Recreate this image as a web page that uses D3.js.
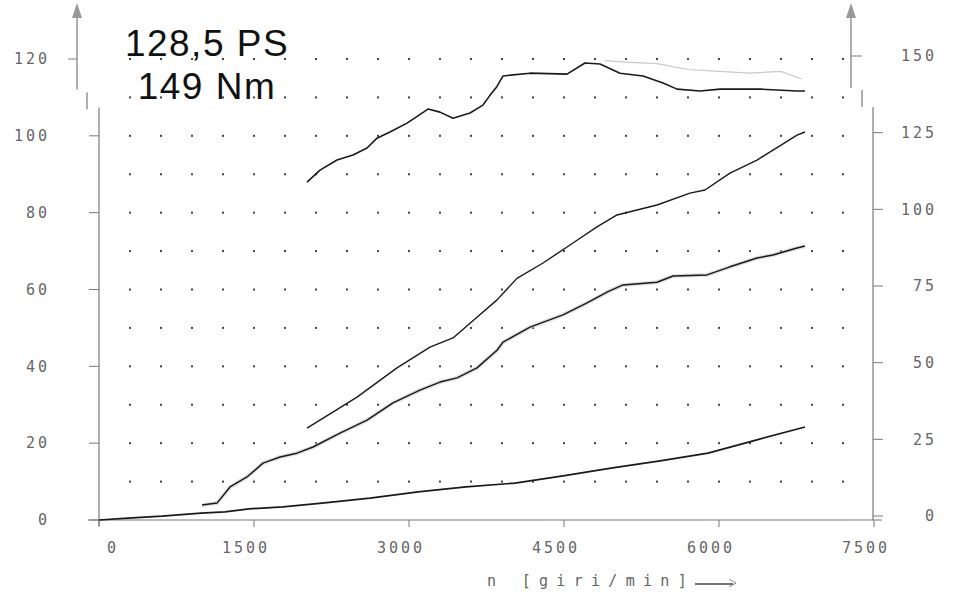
<!DOCTYPE html>
<html><head><meta charset="utf-8">
<script src="https://cdn.jsdelivr.net/npm/d3@7"></script>
<style>html,body{margin:0;padding:0;background:#fff;}svg{display:block;}</style>
</head><body>
<script>
// ---- data ----
const rpmTicks = [0, 1500, 3000, 4500, 6000, 7500];
const leftTicks = [0, 20, 40, 60, 80, 100, 120];
const rightTicks = [0, 25, 50, 75, 100, 125, 150];
const titleLines = ["128,5 PS", "149 Nm"];
const xLabel = "n [giri/min]";

const torqueRpm = [2013,2139,2303,2458,2594,2690,2816,2981,3184,3300,3426,3590,3716,3780,3850,3910,4171,4529,4703,4848,5042,5265,5458,5594,5816,6010,6397,6755,6832];
const torqueNm  = [108.9,112.8,116.1,117.7,120.0,123.2,125.2,128.1,132.7,131.7,129.7,131.4,134.0,137.0,140.0,143.5,144.4,144.1,147.7,147.4,144.4,143.5,141.2,139.2,138.6,139.2,139.2,138.6,138.6];

const torqueGrayRpm = [4900,5100,5400,5700,6000,6300,6600,6800];
const torqueGrayNm  = [148.5,148.0,147.5,145.6,145.0,144.4,145.0,142.5];

const powerRpm = [2013,2497,2884,3203,3426,3658,3852,4045,4297,4587,4819,5013,5400,5719,5864,6106,6368,6523,6755,6832];
const powerVal = [23.9,32.0,39.6,45.0,47.4,52.8,57.3,62.9,66.9,72.1,76.3,79.4,82.0,85.1,85.9,90.3,93.7,96.3,100.2,101.0];

const wheelRpm = [997,1142,1268,1432,1587,1752,1916,2071,2332,2594,2845,3106,3300,3465,3658,3852,3910,4171,4490,4723,4916,5071,5400,5555,5884,6106,6368,6523,6755,6832];
const wheelVal = [3.9,4.4,8.6,11.2,14.8,16.4,17.4,19.0,22.6,26.0,30.5,33.8,35.9,37.0,39.6,44.2,46.3,50.2,53.4,56.5,59.3,61.2,61.9,63.5,63.8,65.9,68.2,69.0,70.8,71.3];

const lossRpm = [0,281,610,987,1219,1452,1781,2158,2623,3087,3552,4026,4490,4955,5429,5894,6358,6832];
const lossVal = [0,0.5,1.0,1.8,2.1,2.9,3.4,4.4,5.7,7.3,8.6,9.6,11.5,13.5,15.4,17.4,20.8,24.2];

// ---- drawing ----
const W = 958, H = 596;
const svg = d3.select("body").append("svg").attr("width", W).attr("height", H);

const x = d3.scaleLinear().domain([0, 7500]).range([99, 874]);
const yL = d3.scaleLinear().domain([0, 120]).range([520, 59]);
const yR = d3.scaleLinear().domain([0, 150]).range([516, 56]);

const axisCol = "#7a7a7a", txtCol = "#666";
const mono = "'DejaVu Sans Mono', monospace";

// grid dots
const gridX = d3.range(300, 7201, 300);
const gridY = d3.range(10, 121, 10);
const dots = [];
gridY.forEach(v => gridX.forEach(r => dots.push([r, v])));
svg.append("g").selectAll("rect").data(dots).join("rect")
  .attr("x", d => x(d[0]) - 1).attr("y", d => yL(d[1]) - 1)
  .attr("width", 2).attr("height", 2).attr("fill", "#444");

// x axis
svg.append("line").attr("x1", 88).attr("x2", 882).attr("y1", yL(0)).attr("y2", yL(0))
  .attr("stroke", axisCol).attr("stroke-width", 1.2);
svg.append("g").selectAll("line").data(rpmTicks).join("line")
  .attr("x1", d => x(d)).attr("x2", d => x(d)).attr("y1", yL(0)).attr("y2", yL(0) + 7)
  .attr("stroke", axisCol);
svg.append("g").selectAll("text").data(rpmTicks).join("text")
  .attr("x", d => x(d) + (d === 0 ? 14 : -8)).attr("y", 553)
  .attr("text-anchor", "middle").attr("font-family", mono).attr("font-size", 15)
  .attr("letter-spacing", 3).attr("fill", txtCol).text(d => String(d));

// left axis (main part + shifted upper part as on the scan)
svg.append("line").attr("x1", 99).attr("x2", 99).attr("y1", yL(110) + 10).attr("y2", yL(0) + 6)
  .attr("stroke", axisCol).attr("stroke-width", 1.2);
svg.append("line").attr("x1", 87).attr("x2", 87).attr("y1", yL(110) - 5).attr("y2", yL(110) + 12)
  .attr("stroke", axisCol).attr("stroke-width", 1.2);
svg.append("line").attr("x1", 77).attr("x2", 77).attr("y1", 8).attr("y2", yL(110) - 8)
  .attr("stroke", axisCol).attr("stroke-width", 1.2);
svg.append("path").attr("d", "M77,3 L72,18 L82,18 Z").attr("fill", "#999");
svg.append("g").selectAll("line").data(leftTicks).join("line")
  .attr("x1", d => d === 120 ? 68 : 89).attr("x2", d => d === 120 ? 77 : 99)
  .attr("y1", d => yL(d)).attr("y2", d => yL(d)).attr("stroke", axisCol);
svg.append("g").selectAll("text").data(leftTicks).join("text")
  .attr("x", 50).attr("y", d => yL(d)).attr("dy", "0.35em")
  .attr("text-anchor", "end").attr("font-family", mono).attr("font-size", 15)
  .attr("letter-spacing", 3).attr("fill", txtCol).text(d => String(d));

// right axis
svg.append("line").attr("x1", 873).attr("x2", 873).attr("y1", 107).attr("y2", yL(0))
  .attr("stroke", axisCol).attr("stroke-width", 1.2);
svg.append("line").attr("x1", 862).attr("x2", 862).attr("y1", 90).attr("y2", 107)
  .attr("stroke", axisCol).attr("stroke-width", 1.2);
svg.append("line").attr("x1", 851).attr("x2", 851).attr("y1", 8).attr("y2", 88)
  .attr("stroke", axisCol).attr("stroke-width", 1.2);
svg.append("path").attr("d", "M851,3 L846,18 L856,18 Z").attr("fill", "#999");
svg.append("g").selectAll("line").data(rightTicks).join("line")
  .attr("x1", d => d === 150 ? 851 : 873).attr("x2", d => d === 150 ? 862 : 883)
  .attr("y1", d => yR(d)).attr("y2", d => yR(d)).attr("stroke", axisCol);
svg.append("g").selectAll("text").data(rightTicks).join("text")
  .attr("x", 937).attr("y", d => yR(d)).attr("dy", "0.35em")
  .attr("text-anchor", "end").attr("font-family", mono).attr("font-size", 15)
  .attr("letter-spacing", 3).attr("fill", txtCol).text(d => String(d));

// curves
function draw(rpm, vals, yScale, color, width, opacity) {
  const pts = rpm.map((r, i) => [r, vals[i]]);
  svg.append("path").datum(pts)
    .attr("d", d3.line().x(d => x(d[0])).y(d => yScale(d[1])))
    .attr("fill", "none").attr("stroke", color).attr("stroke-width", width)
    .attr("stroke-opacity", opacity).attr("stroke-linejoin", "round");
}
draw(torqueGrayRpm, torqueGrayNm, yR, "#bbb", 1.2, 0.8);
draw(wheelRpm, wheelVal, yL, "#ccc", 4, 0.6);
draw(torqueRpm, torqueNm, yR, "#1a1a1a", 1.6, 1);
draw(powerRpm, powerVal, yL, "#1a1a1a", 1.4, 1);
draw(wheelRpm, wheelVal, yL, "#1a1a1a", 1.5, 1);
draw(lossRpm, lossVal, yL, "#1a1a1a", 1.7, 1);

// title
svg.append("g").selectAll("text").data(titleLines).join("text")
  .attr("x", 207).attr("y", (d, i) => 56 + i * 43)
  .attr("text-anchor", "middle").attr("font-family", "'Liberation Sans', Arial, sans-serif")
  .attr("font-size", 37).attr("letter-spacing", 1.5).attr("fill", "#111").text(d => d);

// x label with arrow
svg.append("text").attr("x", 487).attr("y", 586)
  .attr("font-family", mono).attr("font-size", 15).attr("letter-spacing", 8.3)
  .attr("fill", txtCol).text(xLabel);
svg.append("line").attr("x1", 695).attr("x2", 733).attr("y1", 584).attr("y2", 584)
  .attr("stroke", "#444").attr("stroke-width", 1.6);
svg.append("path").attr("d", "M729,579 L736,583 L729,587").attr("fill", "none")
  .attr("stroke", "#888").attr("stroke-width", 1);
</script>
</body></html>
